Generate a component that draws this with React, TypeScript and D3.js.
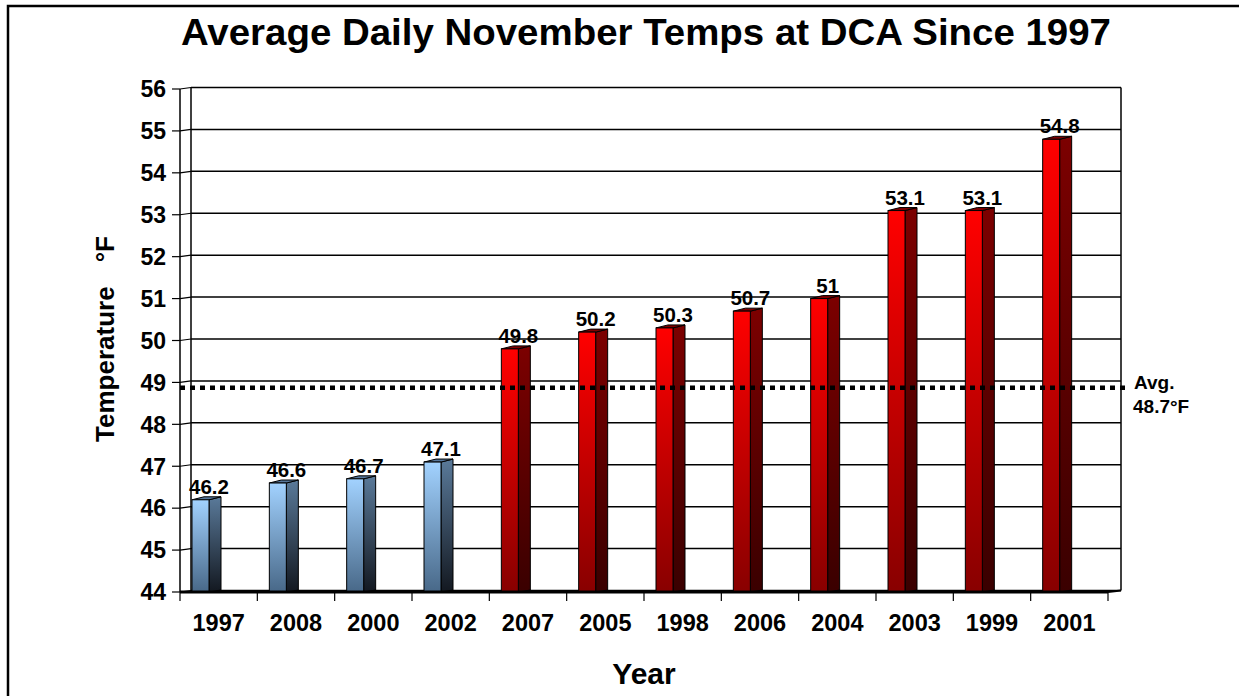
import React from "react";
import * as d3 from "d3";

// data
const years = ["1997", "2008", "2000", "2002", "2007", "2005", "1998", "2006", "2004", "2003", "1999", "2001"];
const temps = [46.2, 46.6, 46.7, 47.1, 49.8, 50.2, 50.3, 50.7, 51, 53.1, 53.1, 54.8];
const yTicks = [44, 45, 46, 47, 48, 49, 50, 51, 52, 53, 54, 55, 56];
const avgLineValue = 48.87; // where the dotted line sits in the picture
const avgLabel = ["Avg.", "48.7°F"];

const W = 1239;
const H = 696;
const FONT = "'Liberation Sans', Arial, Helvetica, sans-serif";

// 3d wall offset
const DX = 11;
const DY = -1.5;

export default function App() {
  const x = d3.scaleBand().domain(years).range([180, 1108]).padding(0);
  const y = d3.scaleLinear().domain([44, 56]).range([592, 89]);

  const bw = x.bandwidth();
  const frontW = 17;
  const sideW = 12;
  const topDy = -3;

  const bars = years.map((yr, i) => {
    const v = temps[i];
    const left = (x(yr) as number) + 12;
    const top = y(v);
    const base = y(44);
    const blue = v < avgLineValue;
    return { yr, v, left, top, base, blue };
  });

  return (
    <svg
      width={W}
      height={H}
      style={{ position: "absolute", left: 0, top: 0, background: "#fff" }}
      fontFamily={FONT}
      fontWeight="bold"
    >
      <defs>
        <linearGradient id="blueFront" x1="0" y1="0" x2="0" y2="1">
          <stop offset="0%" stopColor="#a2d2ff" />
          <stop offset="100%" stopColor="#486888" />
        </linearGradient>
        <linearGradient id="blueSide" x1="0" y1="0" x2="0" y2="1">
          <stop offset="0%" stopColor="#5a7a9a" />
          <stop offset="100%" stopColor="#131820" />
        </linearGradient>
        <linearGradient id="redFront" x1="0" y1="0" x2="0" y2="1">
          <stop offset="0%" stopColor="#ff0000" />
          <stop offset="100%" stopColor="#880000" />
        </linearGradient>
        <linearGradient id="redSide" x1="0" y1="0" x2="0" y2="1">
          <stop offset="0%" stopColor="#7c0000" />
          <stop offset="100%" stopColor="#3a0000" />
        </linearGradient>
      </defs>

      {/* outer frame */}
      <rect x={8} y={6} width={1250} height={720} fill="none" stroke="#000" strokeWidth={2.5} />

      {/* title */}
      <text x={646} y={45} textAnchor="middle" fontSize={36} textLength={930} lengthAdjust="spacingAndGlyphs">
        Average Daily November Temps at DCA Since 1997
      </text>

      {/* back wall gridlines */}
      {yTicks.map((t) => (
        <g key={t}>
          <line x1={180 + DX} x2={1108 + DX + 2} y1={y(t) + DY} y2={y(t) + DY} stroke="#000" strokeWidth={1.5} />
          <line x1={180} x2={180 + DX} y1={y(t)} y2={y(t) + DY} stroke="#000" strokeWidth={1.2} />
          <line x1={172} x2={180} y1={y(t)} y2={y(t)} stroke="#000" strokeWidth={1.2} />
          <text x={166} y={y(t)} dy="0.36em" textAnchor="end" fontSize={23}>
            {t}
          </text>
        </g>
      ))}
      <line x1={180 + DX} x2={180 + DX} y1={y(56) + DY} y2={y(44) + DY} stroke="#000" strokeWidth={1.5} />
      <line x1={1108 + DX + 2} x2={1108 + DX + 2} y1={y(56) + DY} y2={y(44) + DY} stroke="#000" strokeWidth={1.5} />
      <line x1={180} x2={180} y1={y(56)} y2={y(44)} stroke="#000" strokeWidth={1.5} />

      {/* bars */}
      {bars.map((b) => {
        const f = b.blue ? "blue" : "red";
        const r = b.left + frontW;
        return (
          <g key={b.yr} stroke="#000" strokeWidth={1}>
            <polygon
              points={`${r},${b.top} ${r + sideW},${b.top + topDy} ${r + sideW},${b.base - 2} ${r},${b.base}`}
              fill={`url(#${f}Side)`}
            />
            <polygon
              points={`${b.left},${b.top} ${b.left + sideW},${b.top + topDy} ${r + sideW},${b.top + topDy} ${r},${b.top}`}
              fill={b.blue ? "#56769a" : "#7c0000"}
            />
            <rect x={b.left} y={b.top} width={frontW} height={b.base - b.top} fill={`url(#${f}Front)`} />
          </g>
        );
      })}

      {/* floor / x axis */}
      <line x1={180} x2={1108} y1={592} y2={592} stroke="#000" strokeWidth={3} />
      <line x1={1108} x2={1108 + DX + 2} y1={592} y2={592 + DY} stroke="#000" strokeWidth={2} />
      {d3.range(years.length + 1).map((i) => {
        const xx = 180 + i * bw;
        return <line key={i} x1={xx} x2={xx} y1={592} y2={601} stroke="#000" strokeWidth={1.2} />;
      })}
      {years.map((yr) => (
        <text key={yr} x={(x(yr) as number) + bw / 2} y={631} textAnchor="middle" fontSize={23.5}>
          {yr}
        </text>
      ))}

      {/* average line */}
      <line
        x1={180}
        x2={1126}
        y1={y(avgLineValue)}
        y2={y(avgLineValue)}
        stroke="#000"
        strokeWidth={4.5}
        strokeDasharray="5 5"
      />
      <text x={1134} y={389} fontSize={19}>
        {avgLabel[0]}
      </text>
      <text x={1133} y={413} fontSize={19}>
        {avgLabel[1]}
      </text>

      {/* value labels */}
      {bars.map((b) => (
        <text key={b.yr} x={b.left + 17} y={b.top - 6} textAnchor="middle" fontSize={20.5}>
          {b.v}
        </text>
      ))}

      {/* axis titles */}
      <text transform="translate(114,339) rotate(-90)" textAnchor="middle" fontSize={26}>
        Temperature<tspan dx={24}>°F</tspan>
      </text>
      <text x={644} y={684} textAnchor="middle" fontSize={30}>
        Year
      </text>
    </svg>
  );
}
